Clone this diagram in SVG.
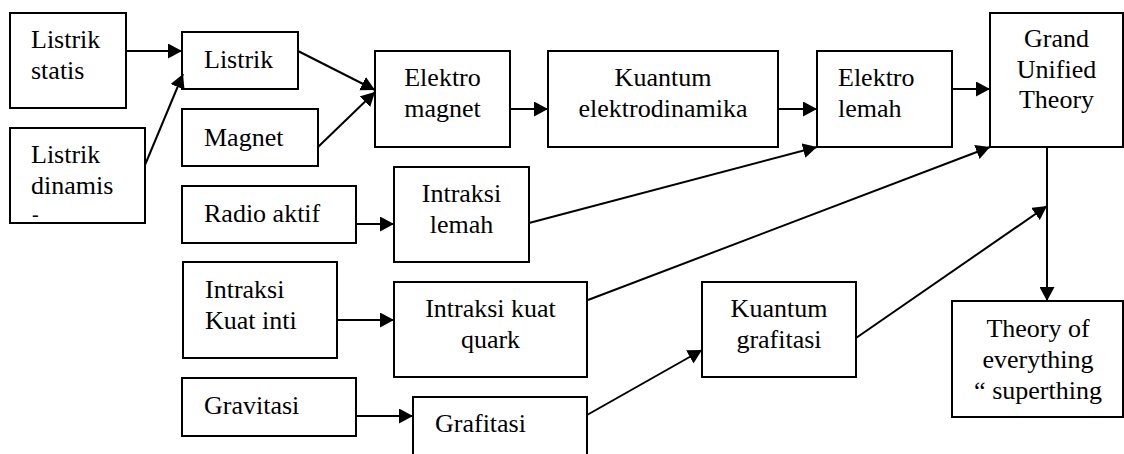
<svg xmlns="http://www.w3.org/2000/svg" width="1124" height="454" viewBox="0 0 1124 454">
  <style>
    .box { fill: #ffffff; stroke: #000000; stroke-width: 2; }
    .lbl { font-family: "Liberation Serif", "Times New Roman", serif; font-size: 26px; fill: #000000; }
    .mid { text-anchor: middle; }
    .link { stroke: #000000; stroke-width: 2; fill: none; marker-end: url(#head); }
  </style>
  <defs>
    <marker id="head" markerUnits="userSpaceOnUse" markerWidth="15" markerHeight="15" refX="14" refY="7.5" orient="auto">
      <path d="M0,0 L14,7.5 L0,15 Z" fill="#000000"/>
    </marker>
  </defs>
  <rect width="1124" height="454" fill="#ffffff"/>

  <g id="listrik-statis">
    <rect class="box" x="10" y="13" width="116" height="95"/>
    <text class="lbl" x="31" y="48">Listrik</text>
    <text class="lbl" x="31" y="79">statis</text>
  </g>
  <g id="listrik-dinamis">
    <rect class="box" x="10" y="128" width="135" height="95"/>
    <text class="lbl" x="31" y="163">Listrik</text>
    <text class="lbl" x="31" y="194">dinamis</text>
    <text class="lbl" x="32" y="221" style="font-size:20px">-</text>
  </g>
  <g id="listrik">
    <rect class="box" x="182" y="32" width="116" height="57"/>
    <text class="lbl" x="204" y="68">Listrik</text>
  </g>
  <g id="magnet">
    <rect class="box" x="182" y="109" width="136" height="57"/>
    <text class="lbl" x="204" y="146">Magnet</text>
  </g>
  <g id="radio-aktif">
    <rect class="box" x="182" y="186" width="174" height="57"/>
    <text class="lbl" x="204" y="222">Radio aktif</text>
  </g>
  <g id="intraksi-kuat-inti">
    <rect class="box" x="183" y="262" width="154" height="96"/>
    <text class="lbl" x="205" y="298">Intraksi</text>
    <text class="lbl" x="205" y="329">Kuat inti</text>
  </g>
  <g id="gravitasi">
    <rect class="box" x="182" y="378" width="174" height="58"/>
    <text class="lbl" x="204" y="414">Gravitasi</text>
  </g>
  <g id="elektromagnet">
    <rect class="box" x="375" y="51" width="135" height="96"/>
    <text class="lbl mid" x="442.5" y="86">Elektro</text>
    <text class="lbl mid" x="442.5" y="117">magnet</text>
  </g>
  <g id="kuantum-elektrodinamika">
    <rect class="box" x="548" y="51" width="230" height="96"/>
    <text class="lbl mid" x="663" y="86">Kuantum</text>
    <text class="lbl mid" x="663" y="117">elektrodinamika</text>
  </g>
  <g id="elektro-lemah">
    <rect class="box" x="817" y="51" width="135" height="96"/>
    <text class="lbl" x="838" y="86">Elektro</text>
    <text class="lbl" x="838" y="117">lemah</text>
  </g>
  <g id="grand-unified-theory">
    <rect class="box" x="990" y="13" width="133" height="134"/>
    <text class="lbl mid" x="1056.5" y="47">Grand</text>
    <text class="lbl mid" x="1056.5" y="78">Unified</text>
    <text class="lbl mid" x="1056.5" y="108">Theory</text>
  </g>
  <g id="intraksi-lemah">
    <rect class="box" x="394" y="167" width="135" height="95"/>
    <text class="lbl mid" x="461.5" y="202">Intraksi</text>
    <text class="lbl mid" x="461.5" y="233">lemah</text>
  </g>
  <g id="intraksi-kuat-quark">
    <rect class="box" x="394" y="282" width="193" height="95"/>
    <text class="lbl mid" x="490.5" y="317">Intraksi kuat</text>
    <text class="lbl mid" x="490.5" y="348">quark</text>
  </g>
  <g id="grafitasi">
    <rect class="box" x="413" y="397" width="174" height="60"/>
    <text class="lbl" x="435" y="432">Grafitasi</text>
  </g>
  <g id="kuantum-grafitasi">
    <rect class="box" x="702" y="282" width="154" height="95"/>
    <text class="lbl mid" x="779" y="317">Kuantum</text>
    <text class="lbl mid" x="779" y="348">grafitasi</text>
  </g>
  <g id="theory-of-everything">
    <rect class="box" x="952" y="301" width="171" height="116"/>
    <text class="lbl mid" x="1038" y="337">Theory of</text>
    <text class="lbl mid" x="1038" y="368">everything</text>
    <text class="lbl mid" x="1038" y="399">“ superthing</text>
  </g>

  <g id="connectors">
    <line class="link" x1="126" y1="51" x2="182" y2="51"/>
    <line class="link" x1="145" y1="165" x2="183" y2="74"/>
    <line class="link" x1="298" y1="51" x2="375" y2="90"/>
    <line class="link" x1="318" y1="147" x2="375" y2="92"/>
    <line class="link" x1="510" y1="109" x2="548" y2="109"/>
    <line class="link" x1="778" y1="109" x2="817" y2="109"/>
    <line class="link" x1="952" y1="89" x2="990" y2="89"/>
    <line class="link" x1="356" y1="224" x2="394" y2="224"/>
    <line class="link" x1="529" y1="223" x2="817" y2="147"/>
    <line class="link" x1="337" y1="320" x2="394" y2="320"/>
    <line class="link" x1="588" y1="300" x2="990" y2="147"/>
    <line class="link" x1="356" y1="416" x2="413" y2="416"/>
    <line class="link" x1="587" y1="415" x2="702" y2="350"/>
    <line class="link" x1="856" y1="338" x2="1047" y2="206"/>
    <line class="link" x1="1047" y1="147" x2="1047" y2="301"/>
  </g>
</svg>
